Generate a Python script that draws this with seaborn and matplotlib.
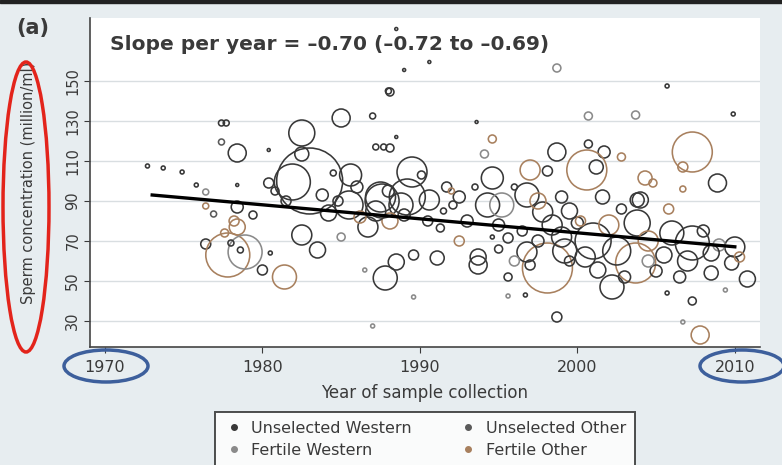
import numpy as np
import pandas as pd
import matplotlib
matplotlib.use("Agg")
import matplotlib.pyplot as plt
import seaborn as sns
from matplotlib.lines import Line2D
from matplotlib.patches import Ellipse, Rectangle

# one entry per study: year of collection, mean concentration, sample size, group
year = [1972.7, 1973.7, 1974.9, 1975.8, 1976.4, 1978.4, 1977.4, 1977.7, 1977.4, 1978.4,
        1980.4, 1976.4, 1976.9, 1978.4, 1979.4, 1978.4, 1976.4, 1977.8, 1978.9, 1978.0,
        1978.6, 1980.5, 1980.0, 1977.6, 1978.2,
        1982.5, 1982.5, 1981.9, 1983.0, 1980.4, 1985.0, 1987.0, 1988.0, 1985.6, 1987.2,
        1987.7, 1984.5, 1987.5, 1988.5, 1988.5, 1989.0, 1990.6, 1988.1, 1988.1, 1982.5,
        1983.5, 1981.4, 1986.5, 1987.0, 1987.8, 1988.5, 1989.6, 1989.6, 1985.0, 1986.7,
        1987.6, 1988.8, 1989.2, 1984.2, 1985.5, 1986.2, 1983.8, 1984.8, 1988.1, 1989.5,
        1990.1, 1981.5, 1980.8, 1988.0, 1987.2, 1986.0, 1989.0,
        1991.7, 1990.6, 1991.1, 1993.7, 1993.7, 1995.6, 1995.6, 1996.7, 1998.7, 1998.1,
        1996.8, 1992.1, 1994.3, 1995.2, 1996.8, 1991.3, 1994.6, 1995.6, 1998.4, 1997.8,
        2000.0, 1993.6, 1994.6, 1994.1, 1998.7, 1998.7, 1994.6, 1997.0, 1998.1, 1992.5,
        1993.5, 1996.0, 1997.5, 1999.0, 1999.5, 1993.0, 1995.0, 1996.5, 1997.5, 1999.0,
        1992.5, 1990.5, 1991.5, 1996.0, 1999.2, 1997.0, 1999.5, 1995.0, 1992.0,
        2000.7, 2003.7, 2009.9, 2005.7, 2000.7, 2001.7, 2002.8, 2007.3, 2006.7, 2000.6,
        2001.2, 2004.3, 2004.8, 2008.9, 2006.7, 2005.8, 2003.8, 2001.6, 2007.8, 2006.7,
        2007.3, 2005.7, 2010.8, 2009.4, 2003.8, 2003.7, 2007.3, 2010.0, 2009.8, 2008.5,
        2002.2, 2001.3, 2004.0, 2001.0, 2002.0, 2000.5, 2002.5, 2004.5, 2005.5, 2006.0,
        2007.0, 2008.0, 2009.0, 2005.0, 2006.5, 2003.0, 2000.2, 2002.8, 2008.5, 2010.3,
        2004.5]
conc = [107.5, 106.5, 104.5, 98, 94.5, 98, 129, 129, 119.5, 114,
        115.5, 87.5, 83.5, 87, 83, 77, 68.5, 63, 64.5, 69,
        65.5, 64, 55.5, 74, 80,
        124, 113.5, 99.5, 100, 99, 131.5, 132.5, 145, 103, 117,
        117, 104, 92, 122, 176, 155.5, 159.5, 144.5, 116.5, 73,
        65.5, 52, 55.5, 27.5, 51.5, 59.5, 63, 42, 72, 77,
        90, 88, 92, 84, 88, 82, 93, 90, 80, 104.5,
        103, 90, 95, 95, 85, 97, 83,
        97, 90.5, 61.5, 58, 62, 52, 42.5, 43, 32, 56.5,
        64.5, 88, 88, 88, 93, 76.5, 72, 71.5, 78, 84.5,
        79, 129.5, 121, 113.5, 114.5, 156.5, 101.5, 105.5, 105, 92,
        97, 97, 90, 92, 85, 80, 78, 75, 70, 72,
        70, 80, 85, 60, 65, 58, 60, 66, 95,
        132.5, 133, 133.5, 147.5, 118.5, 114.5, 112, 114.5, 107, 105.5,
        107, 101.5, 99, 99, 96, 86, 90.5, 92, 23, 29.5,
        40, 44, 51, 45.5, 79, 59, 69, 67, 59, 54,
        47, 55.5, 90.5, 70, 78, 62, 65, 70, 63, 74,
        60, 75, 68, 55, 52, 52, 80, 86, 64, 62,
        60]
n = [40, 40, 40, 40, 90, 22, 90, 90, 90, 810,
     22, 90, 90, 360, 160, 640, 250, 4840, 2890, 90,
     90, 40, 250, 160, 250,
     1690, 490, 3240, 10890, 250, 810, 90, 90, 1210, 90,
     90, 90, 2250, 22, 22, 22, 22, 160, 160, 1000,
     640, 1440, 40, 40, 1440, 640, 250, 40, 160, 1000,
     2890, 1440, 3240, 640, 1960, 360, 360, 250, 640, 2250,
     160, 250, 160, 360, 1000, 360, 360,
     250, 1000, 490, 810, 640, 160, 40, 40, 250, 6250,
     1000, 160, 1440, 1440, 1440, 160, 40, 250, 1000, 1000,
     360, 22, 160, 160, 810, 160, 1210, 1000, 250, 360,
     90, 90, 640, 360, 640, 360, 360, 250, 360, 1000,
     250, 250, 90, 250, 1440, 250, 250, 160, 90,
     160, 160, 40, 40, 160, 360, 160, 4000, 250, 4000,
     490, 490, 160, 810, 90, 250, 490, 490, 810, 40,
     160, 40, 640, 40, 1690, 4000, 2890, 1000, 490, 490,
     1440, 640, 640, 3240, 1000, 1000, 1960, 1000, 640, 1440,
     1000, 360, 360, 360, 360, 360, 250, 250, 640, 250,
     360]
group = ["UW", "UW", "UW", "UW", "FW", "UW", "UW", "UW", "UO", "UW",
         "UW", "FO", "UO", "UW", "UW", "FO", "UW", "FO", "FW", "UW",
         "UW", "UW", "UW", "FO", "FO",
         "UW", "UW", "UW", "UW", "UW", "UW", "UW", "UW", "UW", "UW",
         "UW", "UW", "UW", "UW", "UW", "UW", "UW", "UW", "UW", "UW",
         "UW", "FO", "FW", "FW", "UW", "UW", "UW", "FW", "FW", "UW",
         "UW", "UW", "UW", "UW", "UW", "FO", "UW", "UW", "FO", "UW",
         "UW", "UW", "UW", "UW", "UW", "UW", "UW",
         "UW", "UW", "UW", "UW", "UW", "UW", "FW", "UW", "UW", "FO",
         "UW", "UW", "UW", "FW", "UW", "UW", "UW", "UW", "UW", "UW",
         "UW", "UW", "FO", "FW", "UW", "FW", "UW", "FO", "UW", "UW",
         "UW", "UW", "FO", "UW", "UW", "UW", "UW", "UW", "UW", "UW",
         "FO", "UW", "UW", "FW", "UW", "UW", "UW", "UW", "FO",
         "FW", "FW", "UW", "UW", "UW", "UW", "FO", "FO", "FO", "FO",
         "UW", "FO", "FO", "UW", "FO", "FO", "UW", "UW", "FO", "FW",
         "UW", "UW", "UW", "FW", "UW", "FO", "UW", "UW", "UW", "UW",
         "UW", "UW", "UW", "UW", "FO", "UW", "UW", "FO", "UW", "UW",
         "UW", "UW", "FW", "UW", "UW", "UW", "FO", "UW", "UW", "FO",
         "FW"]

group_codes = ["UW", "FW", "UO", "FO"]
group_labels = ["Unselected Western", "Fertile Western", "Unselected Other", "Fertile Other"]
group_colors = ["#383838", "#8a8a8a", "#5a5a5a", "#a8805e"]

# fitted meta-regression line
fit_years = [1973, 2010]
fit_start = 93.0
slope = -0.70

x_ticks = [1970, 1980, 1990, 2000, 2010]
y_ticks = [30, 50, 70, 90, 110, 130, 150]

df = pd.DataFrame({"year": year, "conc": conc, "n": n, "group": group})

W, H = 782, 465
bg = "#e7edf0"
txt = "#3a3a3a"
plt.rcParams["font.family"] = ["DejaVu Sans"]

fig = plt.figure(figsize=(W / 100, H / 100), dpi=100, facecolor=bg)
ax = fig.add_axes([90 / W, 1 - 347 / H, 670 / W, 329 / H])
ax.set_facecolor("white")

palette = dict(zip(group_codes, group_colors))
sns.scatterplot(data=df, x="year", y="conc", hue="group", palette=palette,
                size="n", sizes=(0.207 * 22, 0.207 * 10890), size_norm=(22, 10890),
                linewidth=1.15, legend=False, ax=ax, zorder=3)
# hollow markers, coloured outline
pts = ax.collections[0]
pts.set_edgecolors(pts.get_facecolors())
pts.set_facecolors("none")

line_x = np.array(fit_years)
line_y = fit_start + slope * (line_x - fit_years[0])
ax.plot(line_x, line_y, color="black", lw=2.4, zorder=4)

ax.set_xlim(1969.05, 2011.6)
ax.set_ylim(17, 181.5)
ax.set_xticks(x_ticks)
ax.set_yticks(y_ticks)
ax.set_yticklabels([str(v) for v in y_ticks], rotation=90, va="center")
ax.tick_params(axis="x", labelsize=11.5, colors=txt, length=4, pad=5)
ax.tick_params(axis="y", labelsize=10.5, colors=txt, length=4, pad=3)
ax.grid(axis="y", color="#d9dee1", lw=1)
ax.grid(axis="x", visible=False)
ax.set_axisbelow(True)
for side in ["top", "right"]:
    ax.spines[side].set_visible(False)
for side in ["left", "bottom"]:
    ax.spines[side].set_color("#444444")
    ax.spines[side].set_linewidth(1.2)

ax.set_xlabel("Year of sample collection", fontsize=12, color=txt, labelpad=7)
ax.set_ylabel("Sperm concentration (million/ml)", fontsize=10.5, color=txt)
ax.yaxis.set_label_coords(-0.081, 0.5)

ax.text(0.03, 0.92, "Slope per year = \u20130.70 (\u20130.72 to \u20130.69)",
        transform=ax.transAxes, fontsize=14.5, fontweight="bold", color=txt,
        ha="left", va="center")
fig.text(33 / W, 1 - 28 / H, "(a)", fontsize=15, fontweight="bold", color=txt,
         ha="center", va="center")

handles = [Line2D([], [], marker="o", ls="", color=c, markersize=4) for c in group_colors]
leg = fig.legend(handles, group_labels, ncol=2, loc="upper center",
                 bbox_to_anchor=(425 / W, 1 - 412 / H), borderaxespad=0,
                 fontsize=11.5, frameon=True, fancybox=False, edgecolor="#222222",
                 columnspacing=2.9, handletextpad=0.5, handlelength=1.2,
                 borderpad=0.55, labelspacing=0.45)
leg.get_frame().set_linewidth(1.4)
leg.get_frame().set_facecolor("white")
for t in leg.get_texts():
    t.set_color(txt)

# highlight ellipses drawn over the figure
fig.add_artist(Ellipse((26 / W, 1 - 207 / H), 46 / W, 290 / H, fill=False,
                       ec="#e3241b", lw=2.5, transform=fig.transFigure))
fig.add_artist(Ellipse((106 / W, 1 - 366 / H), 84 / W, 32 / H, fill=False,
                       ec="#3d5f9c", lw=2.5, transform=fig.transFigure))
fig.add_artist(Ellipse((742 / W, 1 - 366 / H), 84 / W, 32 / H, fill=False,
                       ec="#3d5f9c", lw=2.5, transform=fig.transFigure))
fig.add_artist(Rectangle((0, 1 - 3 / H), 1, 3 / H, color="#222222",
                         transform=fig.transFigure))

fig.savefig("out.png", dpi=100, facecolor=bg)
